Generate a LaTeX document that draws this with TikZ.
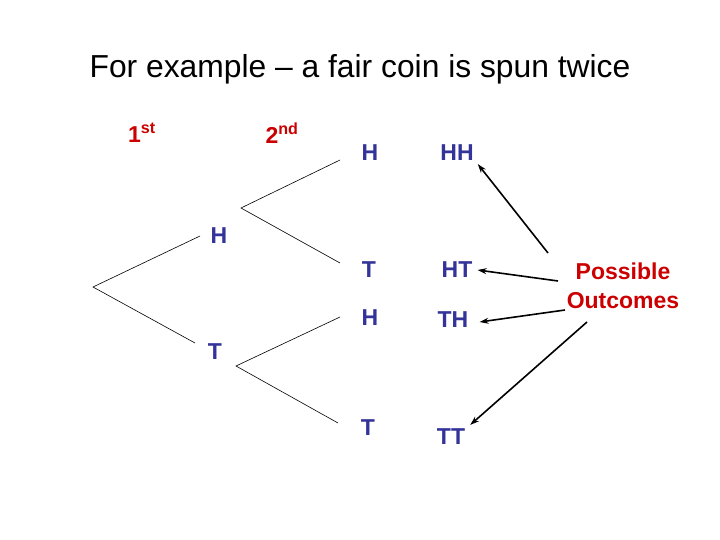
\documentclass[tikz,border=0pt]{standalone}
\usepackage{fontspec}
\setmainfont{Liberation Sans}
\usetikzlibrary{arrows.meta, positioning}
\definecolor{coinblue}{RGB}{51, 51, 153}
\definecolor{coinred}{RGB}{204, 0, 0}
\tikzset{
  coin/.style={font=\fontsize{23}{27}\selectfont\bfseries, text=coinblue, inner sep=1pt},
  spin/.style={font=\fontsize{23}{27}\selectfont\bfseries, text=coinred, inner sep=1pt},
  branch/.style={line width=0.6pt},
  pointer/.style={line width=1.6pt, -{Stealth[length=9pt, width=6pt]}}
}
\begin{document}
\begin{tikzpicture}[x=1pt, y=-1pt]
        \useasboundingbox (0,0) rectangle (720,540);
        \node[font=\fontsize{31.8}{36}\selectfont] (title) at (360, 69) {For example -- a fair coin is spun twice};
        \node[spin] (first) at (142, 133) {1\textsuperscript{st}};
        \node[spin] (second) at (282, 133) {2\textsuperscript{nd}};

        % first spin
        \coordinate (root) at (93, 287);
        \coordinate (hend) at (200, 236);
        \coordinate (tend) at (195, 343);
        \node[coin] (h1) at (219, 236) {H};
        \node[coin] (t1) at (215, 352) {T};
        \draw[branch] (hend) -- (root) -- (tend);

        % second spin
        \coordinate (hroot) at (241, 208);
        \coordinate (troot) at (236, 366);
        \coordinate (hhend) at (340, 160);
        \coordinate (htend) at (340, 263);
        \coordinate (thend) at (340, 317);
        \coordinate (ttend) at (338, 423);
        \draw[branch] (hhend) -- (hroot) -- (htend);
        \draw[branch] (thend) -- (troot) -- (ttend);
        \node[coin] (hh2) at (370, 153) {H};
        \node[coin] (ht2) at (369, 270) {T};
        \node[coin] (th2) at (370, 318) {H};
        \node[coin] (tt2) at (368, 428) {T};

        % outcomes
        \node[coin] (hh) at (457, 153) {HH};
        \node[coin] (ht) at (457, 270) {HT};
        \node[coin] (th) at (453, 320) {TH};
        \node[coin] (tt) at (451, 437) {TT};
        \node[spin, align=center, font=\fontsize{23}{29}\selectfont\bfseries] (poss) at (623, 286) {Possible\\Outcomes};
        \draw[pointer] (548, 253) -- ([xshift=3pt, yshift=-2pt]hh.south east);
        \draw[pointer] (558, 281) -- ([xshift=4pt]ht.east);
        \draw[pointer] (565, 310) -- ([xshift=10pt, yshift=-2pt]th.east);
        \draw[pointer] (587, 322) -- ([xshift=4pt, yshift=3pt]tt.north east);
      \end{tikzpicture}
\end{document}
